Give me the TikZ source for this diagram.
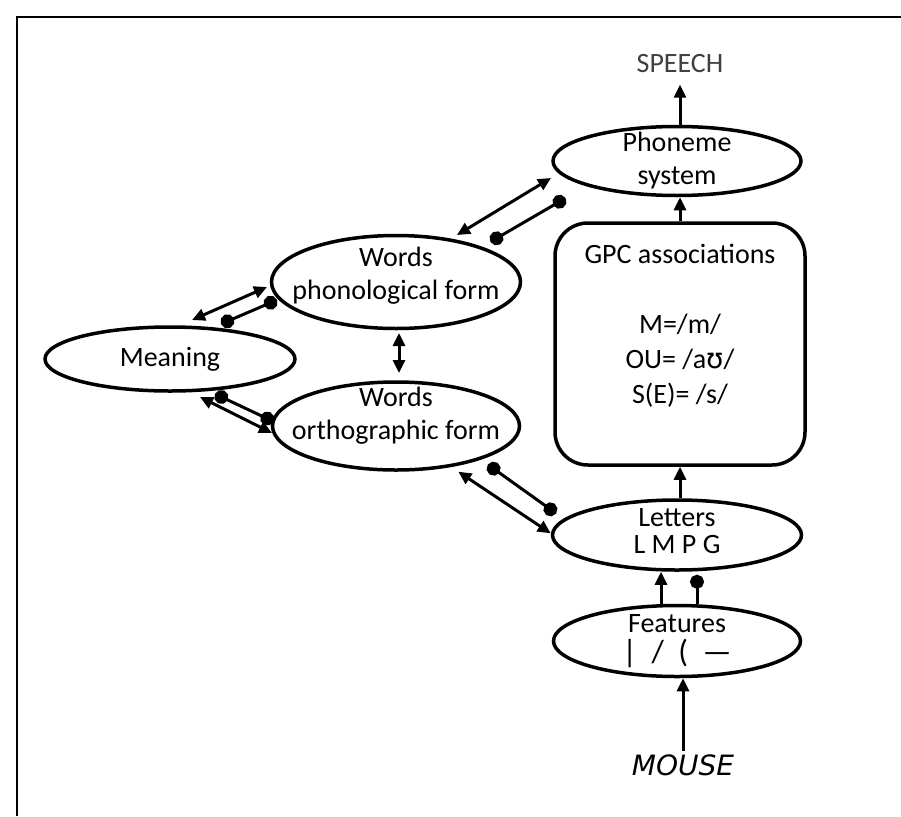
\documentclass[tikz,border=0pt]{standalone}
\usepackage{fontspec}
\setmainfont{Carlito}
\newfontfamily\ipafont{DejaVu Sans}
\newfontfamily\handfont{DejaVu Sans}
\usetikzlibrary{shapes.geometric,arrows.meta}

\tikzset{
  oval/.style={draw, ellipse, line width=3.5pt, inner sep=0pt},
  txt/.style={align=center, font=\fontsize{28}{33}\selectfont},
  fwd/.style={line width=3pt, -{Triangle[length=13pt,width=12pt]}},
  twoway/.style={line width=3pt, {Triangle[length=13pt,width=12pt]}-{Triangle[length=13pt,width=12pt]}},
  inhib/.style={line width=3pt, {Circle[length=14pt]}-{Circle[length=14pt]}},
  inhibup/.style={line width=3pt, -{Circle[length=14pt]}},
}

\begin{document}
\begin{tikzpicture}[x=1pt, y=-1pt]
  \useasboundingbox (0,0) rectangle (901,816);
  % Draw frame
  \draw[line width=2.5pt] (17,816) -- (17,17) -- (901,17);

  % Draw ovals
  \node[oval, minimum width=248pt, minimum height=69pt,
        label={[txt]center:Phoneme\\system}] (phon) at (677,161) {};
  \node[oval, minimum width=249pt, minimum height=93pt,
        label={[txt, yshift=6pt]center:Words\\phonological form}] (phonw) at (396,282) {};
  \node[oval, minimum width=247pt, minimum height=88pt,
        label={[txt, yshift=10pt]center:Words\\orthographic form}] (orth) at (396,426) {};
  \node[oval, minimum width=250pt, minimum height=64pt,
        label={[txt]center:Meaning}] (meaning) at (170,359) {};
  \node[oval, minimum width=249pt, minimum height=70pt,
        label={[txt, font=\fontsize{28}{27}\selectfont, yshift=4pt]center:Letters\\L M P G}] (letters) at (677,535) {};
  \node[oval, minimum width=247pt, minimum height=71pt,
        label={[txt, font=\fontsize{28}{30}\selectfont]center:Features\\{\fontsize{32}{30}\selectfont|\ \ /\ \ (\ \ —}}] (features) at (677,641) {};

  % Draw GPC box
  \node[draw, line width=3.5pt, rounded corners=33pt, minimum width=250pt, minimum height=242pt,
        label={[txt, font=\fontsize{28}{35}\selectfont, yshift=18pt]center:GPC associations\\[35pt]M=/m/\\OU= /a{\ipafont ʊ}/\\S(E)= /s/}] (gpc) at (680,344) {};

  % Input and output
  \node[font=\fontsize{28}{33}\selectfont, text=black!75] (speech) at (680,64) {SPEECH};
  \node[font=\handfont\itshape\fontsize{28}{33}\selectfont] (mouse) at (683,765) {MOUSE};

  % Draw right column arrows
  \draw[fwd] (mouse.north) -- (mouse.north |- features.south);
  \draw[fwd] ([xshift=-16pt]features.north) -- ([xshift=-16pt]letters.south);
  \draw[inhibup, shorten >=3pt] ([xshift=20pt]features.north) -- ([xshift=20pt]letters.south);
  \draw[fwd] (letters.north -| gpc.south) -- (gpc.south);
  \draw[fwd] (gpc.north) -- (gpc.north |- phon.south);
  \draw[fwd, shorten >=8pt] (phon.north -| speech.south) -- (speech.south);

  % Draw links between words and meaning
  \draw[twoway] ([shift={(22,-39)}]meaning.center) -- ([shift={(-129,5)}]phonw.center);
  \draw[inhib] ([shift={(51,-35)}]meaning.center) -- ([shift={(-119,18)}]phonw.center);
  \draw[twoway] ([shift={(30,38)}]meaning.center) -- ([shift={(-124,7)}]orth.center);
  \draw[inhib] ([shift={(45,35)}]meaning.center) -- ([shift={(-122.5,-4.5)}]orth.center);
  \draw[twoway] ([shift={(3,51)}]phonw.center) -- ([shift={(3,-53)}]orth.center);

  % Draw links to phonemes and letters
  \draw[twoway] ([shift={(61,-47)}]phonw.center) -- ([shift={(-126,17)}]phon.center);
  \draw[inhib] ([shift={(94.5,-40.2)}]phonw.center) -- ([shift={(-111.5,37.2)}]phon.center);
  \draw[twoway] ([shift={(62.3,45.7)}]orth.center) -- ([shift={(-126.3,-1.7)}]letters.center);
  \draw[inhib] ([shift={(91.9,38.6)}]orth.center) -- ([shift={(-120.9,-21.6)}]letters.center);
\end{tikzpicture}
\end{document}
